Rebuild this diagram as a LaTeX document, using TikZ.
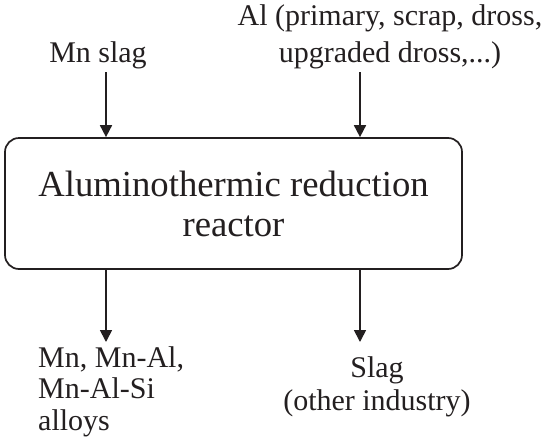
\documentclass[tikz,border=0pt]{standalone}
\usepackage{fontspec}
\setmainfont{Liberation Serif}
\usetikzlibrary{arrows.meta}
\usetikzlibrary{positioning}

\begin{document}
\begin{tikzpicture}[x=1pt, y=-1pt]
			\definecolor{INK}{RGB}{35, 31, 32}
			\tikzset{
				flowlbl/.style={inner sep=0pt, text=INK, align=center, font={\fontsize{30}{37}\selectfont}},
				reactorbox/.style={draw=INK, rounded corners=14pt, line width=1.7pt, minimum width=457pt, minimum height=131pt, inner sep=0pt, text=INK, align=center, font={\fontsize{36.7}{40}\selectfont}},
				flowarrow/.style={-{Triangle[length=12pt, width=12pt]}, line width=1.7pt, color=INK}
			}
			\useasboundingbox (0, 0) rectangle (550, 445);
			\node[reactorbox] (reactor) at (233.5, 203.5) {Aluminothermic reduction\\reactor};
			\node[flowlbl, anchor=base] (mnslag) at ( 98.0,  62.0) {Mn slag};
			\node[flowlbl, anchor=base] (alfeed) at (390.0,  62.0) {Al (primary, scrap, dross,\\upgraded dross,...)};
			\node[flowlbl, anchor=base west, align=left, font={\fontsize{30}{31.5}\selectfont}] (alloys) at ( 38.0, 430.0) {Mn, Mn-Al,\\Mn-Al-Si\\alloys};
			\node[flowlbl, anchor=base, font={\fontsize{30}{33}\selectfont}] (slagout) at (377.0, 410.0) {Slag\\(other industry)};
			\coordinate (mnin) at (106.0, 72.0);
			\coordinate (alin) at (360.0, 72.0);
			\coordinate (alloysout) at (106.0, 342.0);
			\coordinate (slagend) at (360.0, 342.0);
			\draw[flowarrow] (mnin) to (mnin |- reactor.north);
			\draw[flowarrow] (alin) to (alin |- reactor.north);
			\draw[flowarrow] (reactor.south -| alloysout) to (alloysout);
			\draw[flowarrow] (reactor.south -| slagend) to (slagend);
		\end{tikzpicture}
\end{document}
